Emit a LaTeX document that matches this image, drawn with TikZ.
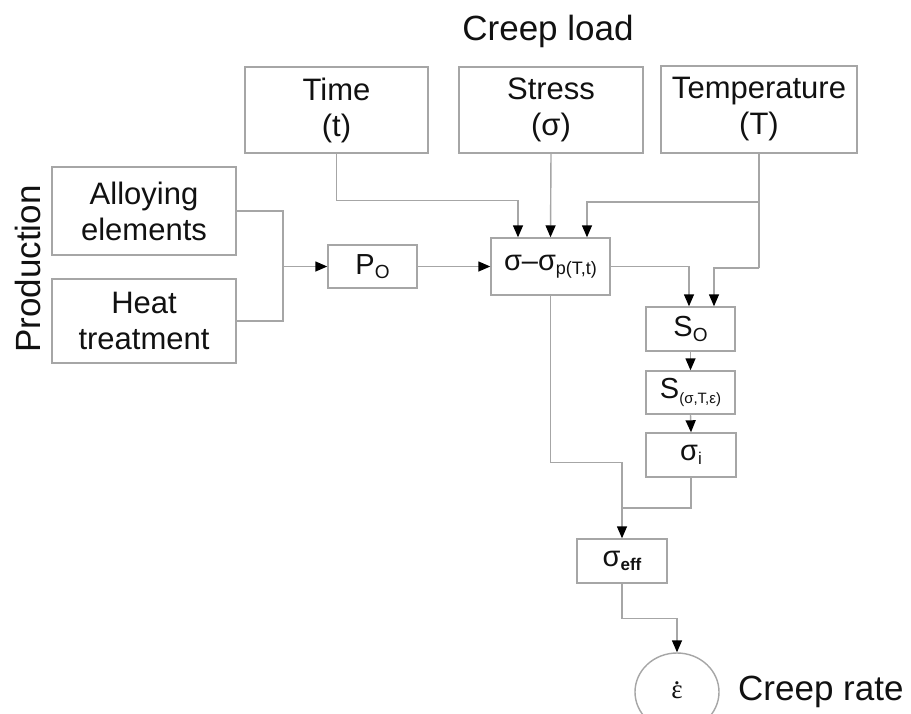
\documentclass[tikz,border=0pt]{standalone}
\usepackage{fontspec}
\setmainfont{Liberation Sans}
\newfontfamily\serifgr{Liberation Serif}
\usetikzlibrary{arrows.meta,shapes.geometric}
\definecolor{linegray}{HTML}{A6A6A6}
\definecolor{txt}{HTML}{111111}
\newcommand\subtxt[2][17]{\raisebox{-0.3ex}{\fontsize{#1}{#1}\selectfont #2}}
\newcommand\epsdot{{\serifgr\fontsize{27}{27}\selectfont\ooalign{ε\cr\hidewidth\raisebox{0.5em}{.}\hidewidth\cr}}}
\tikzset{
  box/.style={draw=linegray, line width=1.4pt, fill=white, inner sep=0pt, align=center,
    font=\fontsize{31}{36}\selectfont, text=txt},
  symbox/.style={box, font=\fontsize{29}{32}\selectfont},
  conn/.style={draw=linegray, line width=1.4pt},
  arr/.style={conn, -{Triangle[length=12pt,width=10pt,color=black]}},
  lbl/.style={text=txt, font=\fontsize{35}{35}\selectfont, inner sep=0pt},
}
\begin{document}
\begin{tikzpicture}[x=1pt,y=-1pt]
\useasboundingbox (0,0) rectangle (911,713);
\fill[white] (0,0) rectangle (911,713);

% labels
\node[lbl, anchor=base] (creepload) at (548,40) {Creep load};
\node[lbl, anchor=base, rotate=90] (production) at (40,269) {Production};
\node[lbl, anchor=base west] (creeprate) at (738,700) {Creep rate};

% input boxes
\node[box, minimum width=183pt, minimum height=86pt] (time) at (336.5,110) {Time\\(t)};
\node[box, minimum width=184pt, minimum height=86pt] (stress) at (551,110) {Stress\\(σ)};
\node[box, minimum width=196pt, minimum height=87pt] (temp) at (759,109.5) {Temperature\\(T)};
\node[box, minimum width=184pt, minimum height=88pt] (alloy) at (144,211) {Alloying\\elements};
\node[box, minimum width=184pt, minimum height=84pt] (heat) at (144,321) {Heat\\treatment};

% process boxes
\node[symbox, minimum width=89pt, minimum height=43pt] (po) at (372.5,266.5) {P\subtxt[19]{O}};
\node[symbox, minimum width=119pt, minimum height=57pt] (sig) at (550.5,266.5) {σ–σ\subtxt[18]{p(T,t)}};
\node[symbox, minimum width=89pt, minimum height=44pt] (so) at (690.5,329) {S\subtxt[19]{O}};
\node[symbox, minimum width=89pt, minimum height=43pt] (s) at (690.5,392.5) {S\subtxt[15]{(σ,T,ε)}};
\node[symbox, minimum width=90pt, minimum height=44pt] (si) at (691,455) {σ\subtxt[17]{i}};
\node[symbox, minimum width=90pt, minimum height=44pt] (seff) at (622,561) {σ\subtxt[17]{\bfseries eff}};
\node[ellipse, draw=linegray, line width=1.4pt, fill=white, inner sep=0pt,
      minimum width=84pt, minimum height=78pt, text=txt] (eps) at (677,692) {\epsdot};

% junction coordinates
\coordinate (j1) at (283,266.5);
\coordinate (tb) at (759,202);
\coordinate (tt) at (759,268);
\coordinate (j2) at (622,508);

% production
\draw[conn] (alloy.east) -| (j1) |- (heat.east);
\draw[arr] (j1) -- (po.west);
\draw[arr] (po.east) -- (sig.west);

% creep load
\draw[arr] (time.south) -- ++(0,47) -| ([xshift=-32.5pt]sig.north);
\draw[arr] (stress.south) -- (sig.north);
\draw[conn] (temp.south) -- (tt);
\draw[arr] (tb) -| ([xshift=36.5pt]sig.north);
\draw[arr] (tt) -| ([xshift=23.5pt]so.north);

% chain
\draw[arr] (sig.east) -| ([xshift=-1.5pt]so.north);
\draw[arr] (so.south) -- (s.north);
\draw[arr] (s.south) -- (si.north);
\draw[arr] (sig.south) -- ++(0,167) -| (seff.north);
\draw[conn] (si.south) |- (j2);
\draw[arr] (seff.south) -- ++(0,35) -| (eps.north);
\end{tikzpicture}
\end{document}
